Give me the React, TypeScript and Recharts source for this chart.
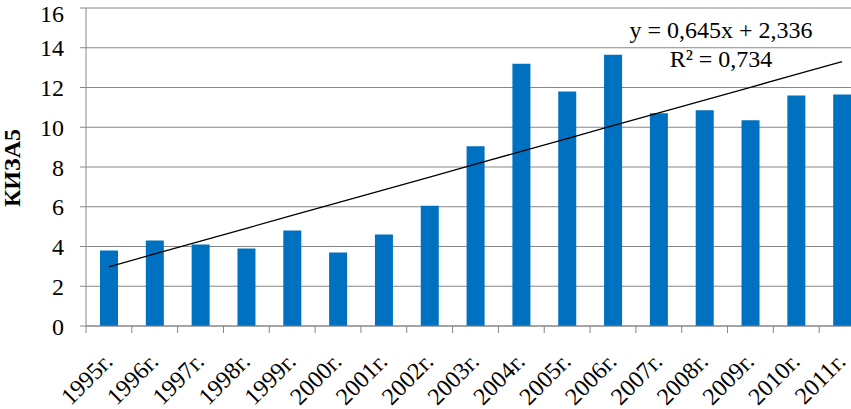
import {
  ComposedChart,
  Bar,
  Line,
  XAxis,
  YAxis,
  CartesianGrid,
} from "recharts";

const years = [
  "1995г.", "1996г.", "1997г.", "1998г.", "1999г.", "2000г.", "2001г.", "2002г.", "2003г.",
  "2004г.", "2005г.", "2006г.", "2007г.", "2008г.", "2009г.", "2010г.", "2011г.",
];
const kiza5 = [
  3.8, 4.3, 4.1, 3.9, 4.8, 3.7, 4.6, 6.05, 9.05, 13.2, 11.8, 13.65, 10.7, 10.85, 10.35, 11.6, 11.65,
];
const yTicks = [0, 2, 4, 6, 8, 10, 12, 14, 16];

// linear trend as printed on the chart
const trendSlope = 0.645;
const trendIntercept = 2.336;
const trendLabel = "y = 0,645x + 2,336";
const r2Label = "R² = 0,734";

const FONT = "'Liberation Serif', serif";
const GRID = "#868686";
const BAR = "#0070C0";

const CHART_W = 865;
const CHART_H = 409;
const PLOT_LEFT = 86;
const PLOT_TOP = 8;
const PLOT_BOTTOM = 326;
const BAND = (CHART_W - PLOT_LEFT) / years.length;

const data = years.map((year, i) => ({
  year,
  value: kiza5[i],
  trend: trendSlope * (i + 1) + trendIntercept,
}));

function YearTick(props: any) {
  const { x, payload } = props;
  const bx = x - BAND / 2;
  const tx = x + 5;
  const ty = PLOT_BOTTOM + 37;
  return (
    <g>
      <line x1={bx} y1={PLOT_BOTTOM} x2={bx} y2={PLOT_BOTTOM + 7} stroke={GRID} />
      <text
        x={tx}
        y={ty}
        transform={`rotate(-45 ${tx} ${ty})`}
        textAnchor="end"
        style={{ fontFamily: FONT, fontSize: 24 }}
        fill="#000"
      >
        {payload.value}
      </text>
    </g>
  );
}

export default function App() {
  return (
    <div
      style={{
        position: "fixed",
        left: 0,
        top: 0,
        width: 851,
        height: 409,
        overflow: "hidden",
        background: "#fff",
        fontFamily: FONT,
      }}
    >
      <ComposedChart
        width={CHART_W}
        height={CHART_H}
        data={data}
        margin={{ top: PLOT_TOP, right: 0, bottom: 0, left: 0 }}
      >
        <CartesianGrid vertical={false} stroke={GRID} strokeWidth={1} />
        <XAxis
          dataKey="year"
          interval={0}
          height={CHART_H - PLOT_BOTTOM}
          axisLine={{ stroke: GRID }}
          tickLine={false}
          tick={<YearTick />}
        />
        <YAxis
          width={PLOT_LEFT}
          domain={[0, 16]}
          ticks={yTicks}
          axisLine={{ stroke: GRID }}
          tickLine={{ stroke: GRID }}
          tickSize={6}
          tickMargin={16}
          tick={{ fill: "#000", style: { fontFamily: FONT, fontSize: 24 } }}
          label={{
            content: () => (
              <text
                x={20}
                y={168}
                transform="rotate(-90 20 168)"
                textAnchor="middle"
                style={{ fontFamily: FONT, fontSize: 24, fontWeight: "bold" }}
                fill="#000"
              >
                КИЗА5
              </text>
            ),
          }}
        />
        <Bar dataKey="value" fill={BAR} barSize={18} isAnimationActive={false} />
        <Line
          dataKey="trend"
          type="linear"
          stroke="#000"
          strokeWidth={1.3}
          dot={false}
          activeDot={false}
          isAnimationActive={false}
        />
      </ComposedChart>
      <div
        style={{
          position: "absolute",
          left: 621,
          top: 16,
          width: 200,
          textAlign: "center",
          fontSize: 24,
          lineHeight: "29px",
          color: "#000",
          whiteSpace: "nowrap",
        }}
      >
        <div>{trendLabel}</div>
        <div>{r2Label}</div>
      </div>
    </div>
  );
}
